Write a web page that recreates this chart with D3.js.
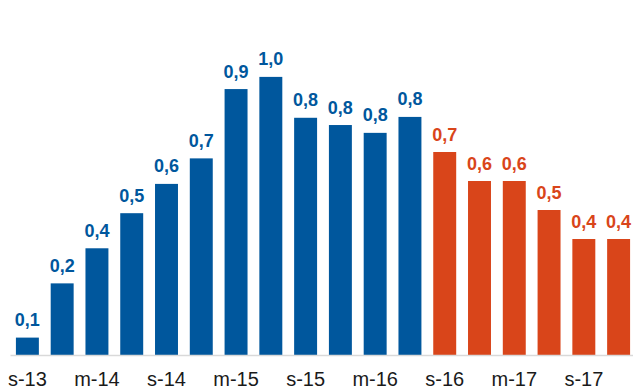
<!DOCTYPE html>
<html>
<head>
<meta charset="utf-8">
<script src="https://cdn.jsdelivr.net/npm/d3@7"></script>
<style>
  html, body { margin: 0; padding: 0; background: #ffffff; }
  svg { display: block; font-family: "Liberation Sans", Arial, sans-serif; }
</style>
</head>
<body>
<svg id="chart" width="633" height="389"></svg>
<script>
// Quarterly categories (tick label shown every other bar)
const categories = ["s-13","d-13","m-14","j-14","s-14","d-14","m-15","j-15","s-15","d-15","m-16","j-16","s-16","d-16","m-17","j-17","s-17","d-17"];
const values = [0.06, 0.247, 0.368, 0.489, 0.59, 0.678, 0.917, 0.959, 0.818, 0.793, 0.766, 0.821, 0.70, 0.60, 0.60, 0.50, 0.40, 0.40];
// series: 0 = observed (blue), 1 = projection (orange)
const seriesType = [0,0,0,0,0,0,0,0,0,0,0,0,1,1,1,1,1,1];
const seriesColors = ["#00579d", "#d9451a"];
const tickCategories = ["s-13","m-14","s-14","m-15","s-15","m-16","s-16","m-17","s-17"];

const svg = d3.select("#chart");

const x = d3.scaleBand()
  .domain(categories)
  .range([10, 636])
  .paddingInner(0.34)
  .paddingOuter(0.17);

const y = d3.scaleLinear()
  .domain([0, 1])
  .range([355, 65]);

const data = categories.map((c, i) => ({ c, v: values[i], s: seriesType[i] }));

// bars
svg.append("g").selectAll("rect")
  .data(data)
  .join("rect")
  .attr("x", d => x(d.c))
  .attr("y", d => y(d.v))
  .attr("width", x.bandwidth())
  .attr("height", d => y(0) - y(d.v))
  .attr("fill", d => seriesColors[d.s]);

// x axis
const axis = svg.append("g")
  .attr("transform", `translate(0,${y(0)})`)
  .call(d3.axisBottom(x)
    .tickValues(tickCategories)
    .tickSize(0)
    .tickPadding(12)
    .tickSizeOuter(0));
axis.select(".domain").attr("stroke", "#d9d9d9").attr("stroke-width", 1.5);
axis.selectAll("text")
  .attr("font-family", "'Liberation Sans', Arial, sans-serif")
  .attr("font-size", 20)
  .attr("fill", "#1a1a1a")
  .attr("dy", null)
  .attr("y", 31);

// value labels
const fmt = v => d3.format(".1f")(v).replace(".", ",");
svg.append("g").selectAll("text")
  .data(data)
  .join("text")
  .attr("x", d => x(d.c) + x.bandwidth() / 2)
  .attr("y", d => y(d.v) - 11.5)
  .attr("text-anchor", "middle")
  .attr("font-family", "'Liberation Sans', Arial, sans-serif")
  .attr("font-size", 18)
  .attr("font-weight", "bold")
  .attr("fill", d => seriesColors[d.s])
  .text(d => fmt(d.v));
</script>
</body>
</html>
